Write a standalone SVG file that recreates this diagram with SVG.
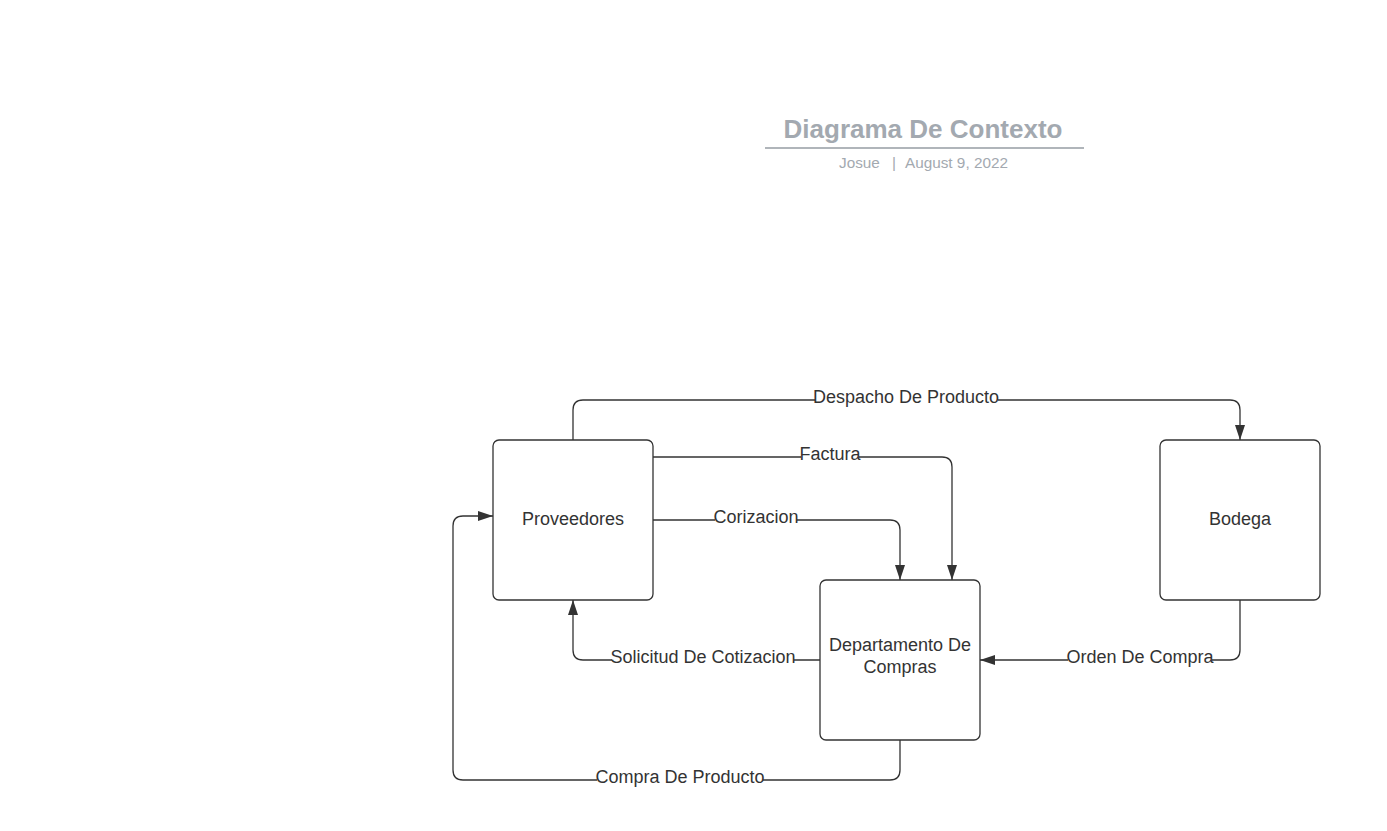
<svg xmlns="http://www.w3.org/2000/svg" width="1387" height="831" viewBox="0 0 1387 831">
<style>
.node rect{fill:#fff;stroke:#333;stroke-width:1.3}
.node text{font-family:"Liberation Sans",Arial,sans-serif;font-size:18px;fill:#333;text-anchor:middle}
.conn path{fill:none;stroke:#333;stroke-width:1.3}
.lbl rect{fill:#fff}
.lbl text{font-family:"Liberation Sans",Arial,sans-serif;font-size:18px;fill:#333;text-anchor:middle}
.title{font-family:"Liberation Sans",Arial,sans-serif;font-size:26px;font-weight:bold;fill:#a3a9b0;text-anchor:middle}
.sub{font-family:"Liberation Sans",Arial,sans-serif;font-size:15.3px;fill:#a3a9b0}
</style>
<defs>
<marker id="arr" viewBox="0 0 15 12" refX="15" refY="6" markerWidth="15" markerHeight="12" markerUnits="userSpaceOnUse" orient="auto">
<path d="M0,1 L15,6 L0,11 Z" fill="#333"/>
</marker>
</defs>
<rect width="1387" height="831" fill="#fff"/>
<g id="title">
<text class="title" x="923" y="138">Diagrama De Contexto</text>
<line x1="765" y1="148" x2="1084" y2="148" stroke="#b0b5ba" stroke-width="2"/>
<text class="sub" x="839" y="168">Josue</text>
<text class="sub" x="892" y="168">|</text>
<text class="sub" x="905" y="168">August 9, 2022</text>
</g>
<g id="connectors" class="conn">
<path d="M573,440 V410 Q573,400 583,400 H1230 Q1240,400 1240,410 V440" marker-end="url(#arr)"/>
<path d="M653,457 H942 Q952,457 952,467 V580" marker-end="url(#arr)"/>
<path d="M653,520 H890 Q900,520 900,530 V580" marker-end="url(#arr)"/>
<path d="M820,660 H583 Q573,660 573,650 V600" marker-end="url(#arr)"/>
<path d="M1240,600 V650 Q1240,660 1230,660 H980" marker-end="url(#arr)"/>
<path d="M900,740 V770 Q900,780 890,780 H463 Q453,780 453,770 V526 Q453,516 463,516 H493" marker-end="url(#arr)"/>
</g>
<g id="labels" class="lbl">
<rect x="815" y="387" width="183" height="20"/><text x="906" y="403">Despacho De Producto</text>
<rect x="801" y="444" width="58" height="20"/><text x="830" y="460">Factura</text>
<rect x="715" y="507" width="82" height="20"/><text x="756" y="523">Corizacion</text>
<rect x="612" y="647" width="182" height="20"/><text x="703" y="663">Solicitud De Cotizacion</text>
<rect x="1068" y="647" width="144" height="20"/><text x="1140" y="663">Orden De Compra</text>
<rect x="597" y="767" width="166" height="20"/><text x="680" y="783">Compra De Producto</text>
</g>
<g id="proveedores" class="node">
<rect x="493" y="440" width="160" height="160" rx="6"/>
<text x="573" y="525">Proveedores</text>
</g>
<g id="bodega" class="node">
<rect x="1160" y="440" width="160" height="160" rx="6"/>
<text x="1240" y="525">Bodega</text>
</g>
<g id="departamento" class="node">
<rect x="820" y="580" width="160" height="160" rx="6"/>
<text x="900" y="651">Departamento De</text>
<text x="900" y="673">Compras</text>
</g>
</svg>
